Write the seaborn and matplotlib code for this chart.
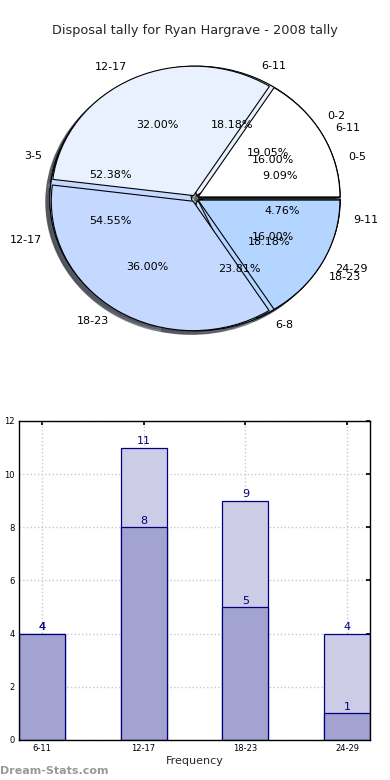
import matplotlib
matplotlib.use('Agg')
import matplotlib.pyplot as plt
import seaborn as sns

# -------------------- Data --------------------
title = 'Disposal tally for Ryan Hargrave - 2008 tally'

# three seasons of tallies drawn as overlaid pies
pie_a_labels = ['0-2', '3-5', '6-8', '9-11']
pie_a_counts = [4, 11, 5, 1]
pie_b_labels = ['0-5', '6-11', '12-17', '18-23']
pie_b_counts = [2, 4, 12, 4]
pie_c_labels = ['6-11', '12-17', '18-23', '24-29']
pie_c_counts = [4, 8, 9, 4]

bar_labels = ['6-11', '12-17', '18-23', '24-29']
bar_back = [4, 11, 9, 4]
bar_front = [4, 8, 5, 1]

wedge_colors = ['#ffffff', '#eaf1fe', '#c5d8ff', '#b4d5ff']

# -------------------- Style --------------------
sns.set_theme(style='white')
plt.rcParams['font.family'] = ['DejaVu Sans']

fig = plt.figure(figsize=(3.9, 7.8), dpi=100)

# -------------------- Pie --------------------
ax1 = fig.add_axes([0.1, 0.563, 0.8, 0.365])
for counts, labels in [(pie_a_counts, pie_a_labels),
                       (pie_b_counts, pie_b_labels),
                       (pie_c_counts, pie_c_labels)]:
    wedges, texts, autotexts = ax1.pie(
        counts, labels=labels, colors=wedge_colors, autopct='%.2f%%',
        explode=[0.025] * len(counts), shadow=True, startangle=0,
        wedgeprops={'edgecolor': 'black', 'linewidth': 0.8},
        textprops={'fontsize': 8, 'color': 'black'})
ax1.set_aspect('auto')
ax1.set_xlim(-1.1, 1.1)
ax1.set_ylim(-1.1, 1.1)
ax1.axis('off')
fig.text(0.5, 0.961, title, ha='center', va='center', fontsize=9.3)

# -------------------- Bars --------------------
ax2 = fig.add_axes([0.0487, 0.0513, 0.9, 0.409])
sns.barplot(x=bar_labels, y=bar_back, color='#cccce6', width=0.45,
            edgecolor='navy', linewidth=0.9, saturation=1, ax=ax2)
sns.barplot(x=bar_labels, y=bar_front, color='#a3a3d1', width=0.45,
            edgecolor='navy', linewidth=0.9, saturation=1, ax=ax2)
for cont in ax2.containers:
    ax2.bar_label(cont, color='navy', fontsize=8, padding=1)

ax2.set_xlim(-0.225, 3.225)
ax2.set_ylim(0, 12)
ax2.set_yticks(range(0, 13, 2))
ax2.grid(True, linestyle=':', color='#c8c8c8', linewidth=1)
ax2.set_axisbelow(True)
ax2.tick_params(labelsize=6, direction='in', length=3, top=True, right=True,
                colors='black', pad=3)
for s in ax2.spines.values():
    s.set_color('black')
    s.set_linewidth(1)
ax2.set_xlabel('Frequency', fontsize=8, labelpad=2)
ax2.set_ylabel('Statistical Tally', fontsize=8, labelpad=6)

fig.text(0.0, 0.012, 'Dream-Stats.com', fontsize=8, color='#999999',
         ha='left', va='center', fontweight='bold')

plt.savefig('out.png', dpi=100)
